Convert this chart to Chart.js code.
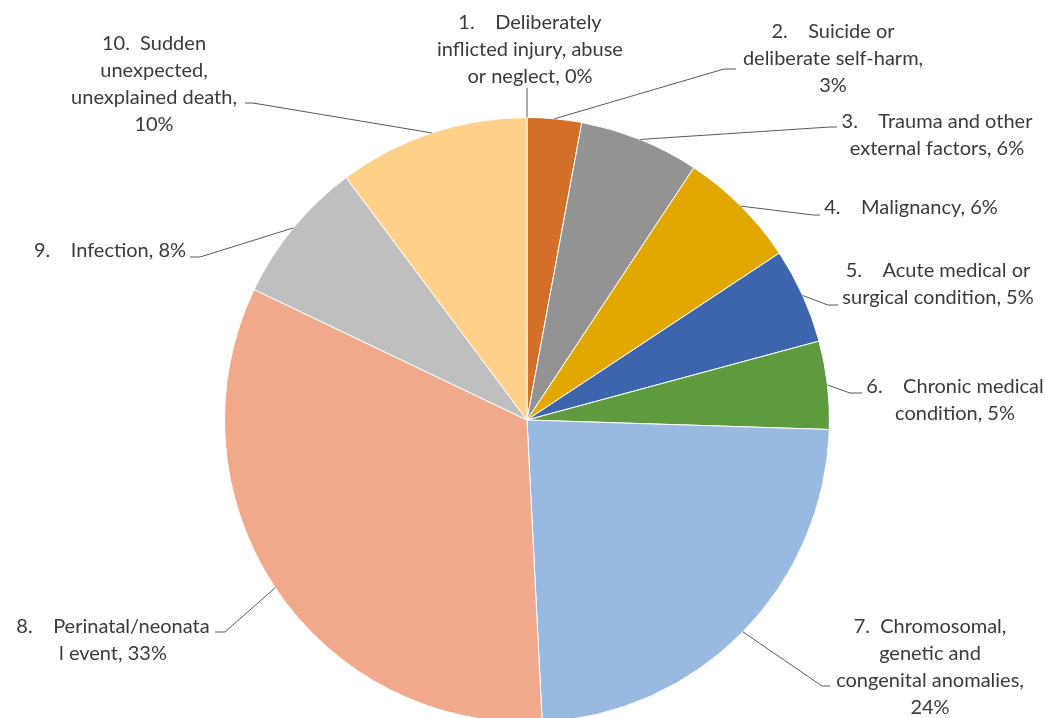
<!DOCTYPE html>
<html>
<head>
<meta charset="utf-8">
<script src="https://cdn.jsdelivr.net/npm/chart.js@4.4.1/dist/chart.umd.min.js"></script>
<style>
  html, body { margin: 0; padding: 0; background: #fff; overflow: hidden; }
  #wrap { width: 1045px; height: 726px; position: relative; }
</style>
</head>
<body>
<div id="wrap"><canvas id="myChart"></canvas></div>
<script>
const categories = [
  "1.    Deliberately inflicted injury, abuse or neglect",
  "2.    Suicide or deliberate self-harm",
  "3.    Trauma and other external factors",
  "4.    Malignancy",
  "5.    Acute medical or surgical condition",
  "6.    Chronic medical condition",
  "7.  Chromosomal, genetic and congenital anomalies",
  "8.    Perinatal/neonatal event",
  "9.    Infection",
  "10.  Sudden unexpected, unexplained death",
];
const percents = [0, 2.9, 6.4, 6.4, 5.1, 4.7, 23.7, 32.9, 7.7, 10.2];
const percentLabels = ["0%", "3%", "6%", "6%", "5%", "5%", "24%", "33%", "8%", "10%"];

const colors = [
  "#4472C4", "#D46F2A", "#939393", "#E2A800", "#3C65AE",
  "#5E9A3E", "#98B9E0", "#F0A98A", "#BFBFBF", "#FFD08A",
];

// label text lines + where they sit (centre x, first line y) and leader elbow/end
const labelLayout = [
  { lines: ["1.    Deliberately", "inflicted injury, abuse", "or neglect, 0%"], x: 530, y: 23, elbow: null, end: [527, 88] },
  { lines: ["2.    Suicide or", "deliberate self-harm,", "3%"], x: 833, y: 32, elbow: [724, 69], end: [736, 69] },
  { lines: ["3.    Trauma and other", "external factors, 6%"], x: 937, y: 122, elbow: [830, 127], end: [837, 127] },
  { lines: ["4.    Malignancy, 6%"], x: 911, y: 208, elbow: [813, 215], end: [820, 215] },
  { lines: ["5.    Acute medical or", "surgical condition, 5%"], x: 938, y: 271, elbow: [828, 305], end: [838, 305] },
  { lines: ["6.    Chronic medical", "condition, 5%"], x: 955, y: 387, elbow: [850, 393], end: [862, 393] },
  { lines: ["7.  Chromosomal,", "genetic and", "congenital anomalies,", "24%"], x: 930, y: 627, elbow: [822, 686], end: [830, 686] },
  { lines: ["8.    Perinatal/neonata", "l event, 33%"], x: 113, y: 627, elbow: [225, 632], end: [215, 632] },
  { lines: ["9.    Infection, 8%"], x: 110, y: 251, elbow: [200, 257], end: [190, 257] },
  { lines: ["10.  Sudden", "unexpected,", "unexplained death,", "10%"], x: 154, y: 44, elbow: [253, 103], end: [245, 103] },
];

const pieLabels = {
  id: "pieLabels",
  afterDatasetsDraw(chart) {
    const ctx = chart.ctx;
    const meta = chart.getDatasetMeta(0);
    ctx.save();
    ctx.strokeStyle = "#595959";
    ctx.lineWidth = 1;
    meta.data.forEach((arc, i) => {
      const L = labelLayout[i];
      const mid = (arc.startAngle + arc.endAngle) / 2;
      const sx = arc.x + Math.cos(mid) * arc.outerRadius;
      const sy = arc.y + Math.sin(mid) * arc.outerRadius;
      ctx.beginPath();
      ctx.moveTo(sx, sy);
      if (L.elbow) ctx.lineTo(L.elbow[0], L.elbow[1]);
      ctx.lineTo(L.end[0], L.end[1]);
      ctx.stroke();
    });
    ctx.fillStyle = "#3a3a3a";
    ctx.font = "20px Lato, 'Open Sans', sans-serif";
    ctx.textAlign = "center";
    ctx.textBaseline = "middle";
    labelLayout.forEach((L) => {
      L.lines.forEach((t, k) => ctx.fillText(t, L.x, L.y + k * 27));
    });
    ctx.restore();
  },
};

const ctx = document.getElementById("myChart").getContext("2d");
const myChart = new Chart(ctx, {
  type: "pie",
  data: {
    labels: categories,
    datasets: [
      {
        data: percents,
        backgroundColor: colors,
        borderColor: "#ffffff",
        borderWidth: 1,
      },
    ],
  },
  options: {
    responsive: true,
    maintainAspectRatio: false,
    animation: false,
    layout: { padding: { left: 224, right: 215, top: 117, bottom: 3 } },
    plugins: {
      legend: { display: false },
      tooltip: { enabled: false },
    },
  },
  plugins: [pieLabels],
});
</script>
</body>
</html>
